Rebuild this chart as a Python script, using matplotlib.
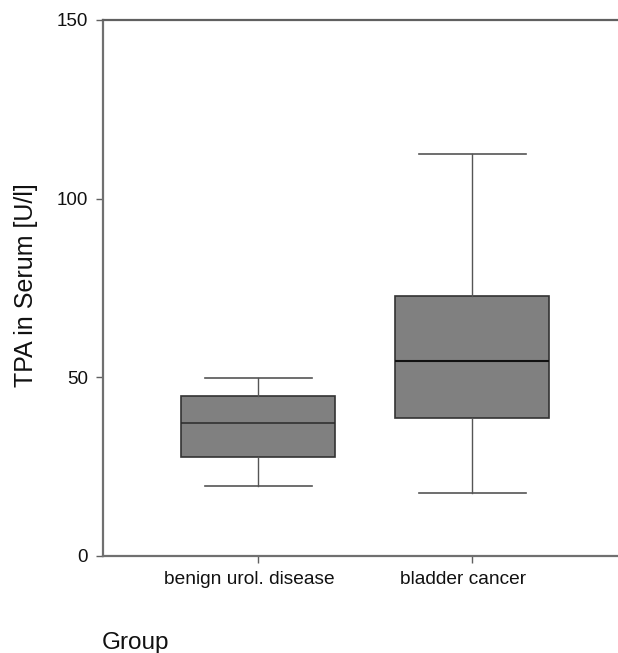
import matplotlib
matplotlib.use("Agg")
import matplotlib.pyplot as plt
from matplotlib.transforms import ScaledTranslation

plt.rcParams['font.family'] = ['Liberation Sans', 'DejaVu Sans']

categories = ["benign urol. disease", "bladder cancer"]
whisker_low = [19.6, 17.7]
q1 = [27.8, 38.5]
median = [37.1, 54.6]
q3 = [44.8, 72.9]
whisker_high = [49.7, 112.4]
yticks = [0, 50, 100, 150]

stats = []
for i, name in enumerate(categories):
    stats.append(dict(label=name, whislo=whisker_low[i], q1=q1[i], med=median[i],
                      q3=q3[i], whishi=whisker_high[i], fliers=[]))

fig = plt.figure(figsize=(6.18, 6.53), dpi=100)
ax = fig.add_axes([103/618, 97/653, 1 - 103/618, 536/653])

positions = [1, 2]
bp = ax.bxp(stats, positions=positions, widths=0.72, patch_artist=True, showfliers=False,
            boxprops=dict(facecolor='#808080', edgecolor='#333333', linewidth=1.2),
            medianprops=dict(color='#111111', linewidth=1.5),
            whiskerprops=dict(color='#555555', linewidth=1.0),
            capprops=dict(color='#555555', linewidth=1.2),
            capwidths=0.5)
bp['medians'][0].set_color('#2a2a2a')
bp['medians'][0].set_linewidth(1.1)

ax.set_xlim(1 - 155/214, 2 + 146/214)
ax.set_ylim(0, 150)
ax.set_yticks(yticks)
ax.set_yticklabels([str(v) for v in yticks])
ax.set_xticks(positions)
ax.set_xticklabels(categories)

ax.spines['right'].set_visible(False)
for s in ['left', 'bottom', 'top']:
    ax.spines[s].set_color('#707070')
    ax.spines[s].set_linewidth(1.6)
ax.spines['top'].set_color('#606060')

ax.tick_params(axis='y', length=5, width=1, color='#606060', labelsize=13.5, pad=6, labelcolor='#111111')
ax.tick_params(axis='x', length=5, width=1, color='#606060', labelsize=13.8, pad=6, labelcolor='#111111')

offset = ScaledTranslation(-9/100, 0, fig.dpi_scale_trans)
for lab in ax.get_xticklabels():
    lab.set_transform(lab.get_transform() + offset)

fig.text(26/618, 1 - 285.5/653, "TPA in Serum [U/l]", rotation=90, ha='center', va='center',
         fontsize=18, color='#111111')
fig.text(102/618, 4/653, "Group", ha='left', va='baseline', fontsize=17.5, color='#111111')

fig.savefig("out.png", dpi=100)
